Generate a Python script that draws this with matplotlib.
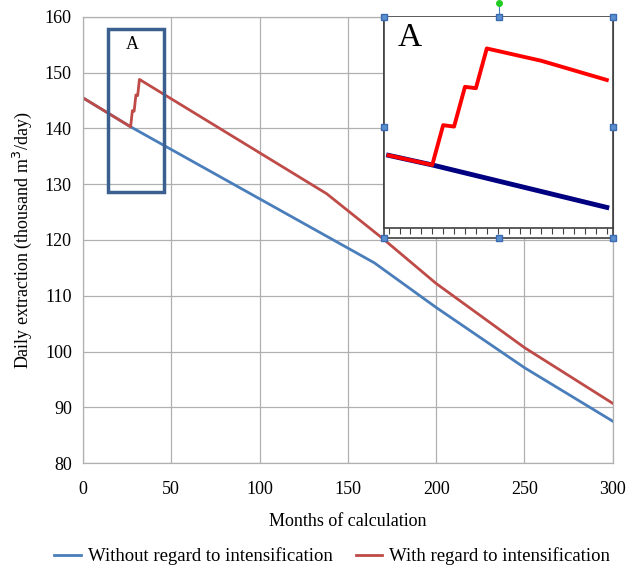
import matplotlib.pyplot as plt
from matplotlib.patches import Rectangle
from matplotlib.lines import Line2D

# main chart data
months_without = [0, 27, 165, 200, 250, 300]
extraction_without = [145.5, 140.3, 115.9, 107.9, 97.1, 87.5]

months_with = [0, 27, 28, 29, 30, 31, 32, 138, 170, 200, 250, 300]
extraction_with = [145.5, 140.3, 143.2, 143.1, 146.0, 145.9, 148.8, 128.3,
                   120.2, 112.2, 100.7, 90.7]

# inset "A" data
inset_months_without = [23, 27, 43]
inset_without = [141.0, 140.3, 137.2]
inset_months_with = [23, 27, 28, 29, 30, 31, 32, 37, 43]
inset_with = [141.0, 140.3, 143.2, 143.1, 146.0, 145.9, 148.8, 147.9, 146.5]

x_ticks = [0, 50, 100, 150, 200, 250, 300]
y_ticks = [80, 90, 100, 110, 120, 130, 140, 150, 160]


def main():
    plt.rcParams['font.family'] = ['Liberation Serif', 'DejaVu Serif']
    fig = plt.figure(figsize=(6.33, 5.65), dpi=100)
    ax = fig.add_axes([0.131, 0.1805, 0.837, 0.7895])

    ax.plot(months_without, extraction_without, color='#4a7ebb', lw=2.0,
            label='Without regard to intensification')
    ax.plot(months_with, extraction_with, color='#be4b48', lw=2.0,
            label='With regard to intensification')

    ax.set_xlim(0, 300)
    ax.set_ylim(80, 160)
    ax.set_xticks(x_ticks)
    ax.set_yticks(y_ticks)
    ax.grid(True, color='#b0b0b0', lw=0.9)
    ax.tick_params(length=0, labelsize=13)
    ax.tick_params(axis='x', pad=13)
    ax.tick_params(axis='y', pad=8)
    for s in ax.spines.values():
        s.set_color('#b0b0b0')
        s.set_linewidth(0.9)
    ax.set_xlabel('Months of calculation', fontsize=13, labelpad=11)
    ax.set_ylabel('Daily extraction (thousand m$^3$/day)', fontsize=13, labelpad=8)

    # box marking zoomed area
    ax.add_patch(Rectangle((14.1, 128.6), 31.7, 29.2, fill=False,
                           edgecolor='#3b5f8f', lw=2.5, zorder=5))
    ax.text(28, 155, 'A', fontsize=13, ha='center', va='center')

    fig.legend(loc='lower center', ncol=2, frameon=False, fontsize=13.5,
               bbox_to_anchor=(0.525, -0.03), handlelength=1.4, handletextpad=0.4,
               columnspacing=1.2)

    # inset
    frame = Rectangle((0.607, 0.579), 0.362, 0.391, transform=fig.transFigure,
                      facecolor='white', edgecolor='#404040', lw=1.2, zorder=9)
    fig.patches.append(frame)
    ins = fig.add_axes([0.607, 0.5965, 0.362, 0.3735], zorder=10)
    ins.plot(inset_months_without, inset_without, color='#000080', lw=3.5)
    ins.plot(inset_months_with, inset_with, color='#ff0000', lw=2.8)
    ins.set_xlim(22.6, 43.6)
    ins.set_ylim(135.7, 151.1)
    ins.set_xticks(range(23, 44))
    ins.set_xticklabels([])
    ins.set_yticks([])
    ins.tick_params(axis='x', direction='out', length=4, color='#404040')
    for s in ins.spines.values():
        s.set_color('#404040')
        s.set_linewidth(1.2)
    ins.spines['top'].set_visible(False)
    ins.text(0.06, 0.9, 'A', transform=ins.transAxes, fontsize=24, va='center')

    # selection handles around inset
    hx = [0.607, 0.788, 0.969]
    hy = [0.579, 0.7745, 0.970]
    pts = [(x, y) for x in hx for y in hy if not (x == hx[1] and y == hy[1])]
    fig.add_artist(Line2D([0.788, 0.788], [0.970, 0.995], color='#4a7ebb', lw=0.8,
                          transform=fig.transFigure, zorder=11))
    for x, y in pts:
        fig.add_artist(Line2D([x], [y], marker='s', ms=4, color='#5b8fd0',
                              mec='#3a6ab0', transform=fig.transFigure, zorder=11))
    fig.add_artist(Line2D([0.788], [0.995], marker='o', ms=4, color='#22cc22',
                          transform=fig.transFigure, zorder=11))

    fig.savefig('out.png', dpi=100)


if __name__ == '__main__':
    main()
